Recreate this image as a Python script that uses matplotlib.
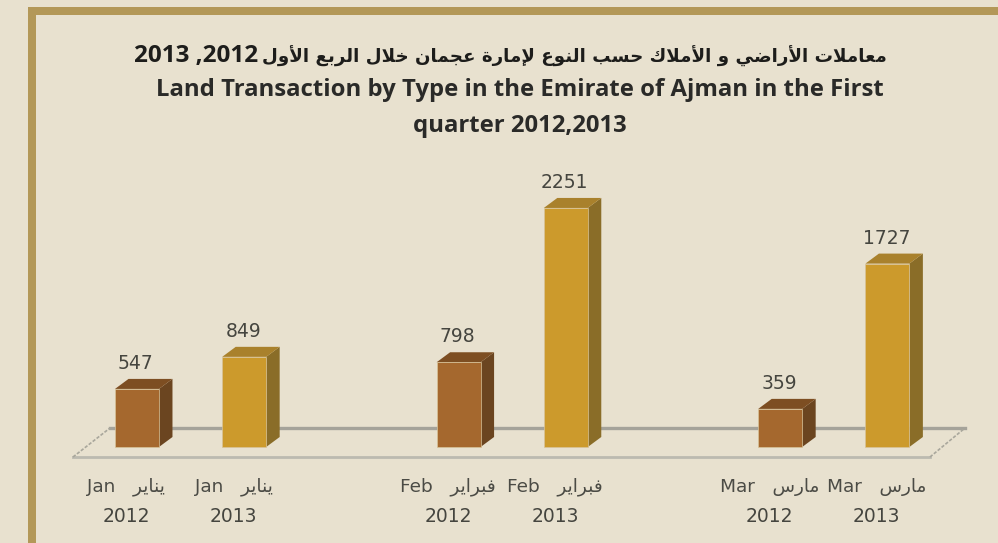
import matplotlib
matplotlib.use('Agg')
import matplotlib.pyplot as plt
from matplotlib.patches import Polygon, Rectangle

months = ['Jan', 'Jan', 'Feb', 'Feb', 'Mar', 'Mar']
months_ar = ['يناير', 'يناير', 'فبراير', 'فبراير', 'مارس', 'مارس']
years = ['2012', '2013', '2012', '2013', '2012', '2013']
slots = [0, 1, 3, 4, 6, 7]
values = [547, 849, 798, 2251, 359, 1727]
title_ar = 'معاملات الأراضي و الأملاك حسب النوع لإمارة عجمان خلال الربع الأول'
title_years = '2013 ,2012'
title_en = ['Land Transaction by Type in the Emirate of Ajman in the First',
            'quarter 2012,2013']

# isolated, final, initial, medial
forms = {
    'ا': 'ﺍﺎ', 'أ': 'ﺃﺄ', 'إ': 'ﺇﺈ', 'ر': 'ﺭﺮ', 'و': 'ﻭﻮ', 'ة': 'ﺓﺔ',
    'ب': 'ﺏﺐﺑﺒ', 'ت': 'ﺕﺖﺗﺘ', 'ج': 'ﺝﺞﺟﺠ', 'ح': 'ﺡﺢﺣﺤ', 'خ': 'ﺥﺦﺧﺨ',
    'س': 'ﺱﺲﺳﺴ', 'ض': 'ﺽﺾﺿﻀ', 'ع': 'ﻉﻊﻋﻌ', 'ف': 'ﻑﻒﻓﻔ', 'ك': 'ﻙﻚﻛﻜ',
    'ل': 'ﻝﻞﻟﻠ', 'م': 'ﻡﻢﻣﻤ', 'ن': 'ﻥﻦﻧﻨ', 'ي': 'ﻱﻲﻳﻴ',
}
lam_alef = {'ا': 'ﻻﻼ', 'أ': 'ﻷﻸ', 'إ': 'ﻹﻺ'}


def shape(word):
    # matplotlib does no arabic shaping, so pick the forms and reverse
    out = []
    i = 0
    joined = False
    while i < len(word):
        c = word[i]
        if c == ' ':
            out.append(c)
            joined = False
            i += 1
            continue
        if c == 'ل' and i + 1 < len(word) and word[i + 1] in lam_alef:
            out.append(lam_alef[word[i + 1]][1 if joined else 0])
            joined = False
            i += 2
            continue
        f = forms[c]
        next_ok = len(f) == 4 and i + 1 < len(word) and word[i + 1] != ' '
        if joined and next_ok:
            out.append(f[3])
        elif joined:
            out.append(f[1])
        elif next_ok:
            out.append(f[2])
        else:
            out.append(f[0])
        joined = next_ok
        i += 1
    return ''.join(out[::-1])


bg = '#e8e1cf'
frame = '#b39858'
W, H = 998, 543
px_x = 107.2
px_y = 0.1062
x0, y0 = 137, 447

fig = plt.figure(figsize=(W / 100, H / 100), dpi=100, facecolor=bg)
ax = fig.add_axes([0, 0, 1, 1])
ax.set_xlim(-x0 / px_x, (W - x0) / px_x)
ax.set_ylim((y0 - H) / px_y, y0 / px_y)
ax.axis('off')

# frame, in figure pixels
for r in [(28, H - 543, 8, 528), (28, H - 15, W - 28, 8)]:
    fig.patches.append(Rectangle((r[0], r[1]), r[2], r[3], transform=None,
                                 facecolor=frame, edgecolor='none', figure=fig))


def sx(p):
    return (p - x0) / px_x


def sy(p):
    return (y0 - p) / px_y


# floor
ax.plot([sx(73), sx(930)], [sy(457), sy(457)], color='#bcbab0', lw=2, zorder=1)
ax.plot([sx(110), sx(965)], [sy(428), sy(428)], color='#a5a39a', lw=2.4, zorder=1)
ax.plot([sx(73), sx(110)], [sy(457), sy(428)], color='#a9a79c', lw=1.2, ls=(0, (2, 1)), zorder=1)
ax.plot([sx(930), sx(965)], [sy(457), sy(428)], color='#a9a79c', lw=1.2, ls=(0, (2, 1)), zorder=1)

width = 0.41
dx = 13.5 / px_x
dy = 10 / px_y
colours = [('#a5682e', '#6b4520', '#7d4e22'), ('#cc9a2c', '#8a6d28', '#a9812c')]

for i, (s, v) in enumerate(zip(slots, values)):
    front, side, top = colours[i % 2]
    l, r = s - width / 2, s + width / 2
    ax.bar(s, v, width, color=front, edgecolor='#d8c49a', linewidth=0.5, zorder=3)
    ax.add_patch(Polygon([(r, 0), (r + dx, dy), (r + dx, v + dy), (r, v)],
                         facecolor=side, edgecolor='none', zorder=2))
    ax.add_patch(Polygon([(l, v), (l + dx, v + dy), (r + dx, v + dy), (r, v)],
                         facecolor=top, edgecolor='none', zorder=2))
    ax.text(s - 0.01, v + dy + 55, str(v), ha='center', va='bottom', fontsize=13.5,
            color='#45453f', family='DejaVu Sans')
    ax.text(s - 0.1, sy(487), months[i] + '   ' + shape(months_ar[i]), ha='center',
            va='center', fontsize=13.3, color='#4b4b45', family='DejaVu Sans')
    ax.text(s - 0.1, sy(516), years[i], ha='center', va='center', fontsize=13.5,
            color='#45453f', family='DejaVu Sans')

# title
ax.text(sx(258), sy(56), title_years, ha='right', va='center', fontsize=17.5,
        fontweight='bold', color='#1d1d1b', family='Open Sans')
ax.text(sx(887), sy(56), shape(title_ar), ha='right', va='center',
        fontsize=13.15, fontweight='bold', color='#1d1d1b', family='DejaVu Sans')
ax.text(sx(519.5), sy(90), title_en[0], ha='center', va='center', fontsize=17.2,
        fontweight='bold', color='#2a2a28', family='Open Sans')
ax.text(sx(519.5), sy(126), title_en[1], ha='center', va='center', fontsize=17.2,
        fontweight='bold', color='#2a2a28', family='Open Sans')

fig.savefig('out.png', dpi=100, facecolor=bg)
